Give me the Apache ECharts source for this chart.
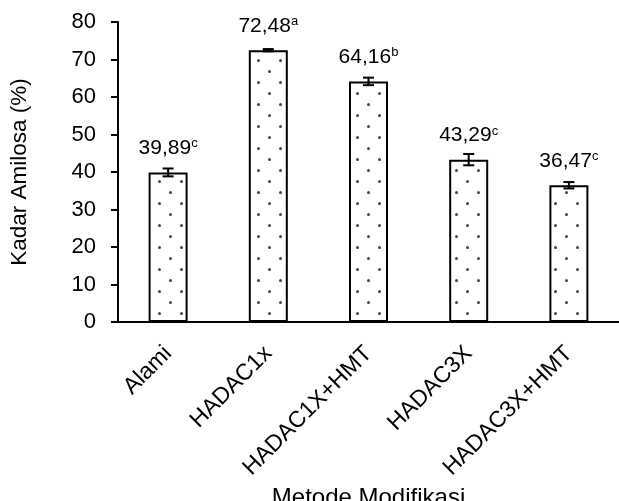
<!DOCTYPE html>
<html>
<head>
<meta charset="utf-8">
<script src="https://cdn.jsdelivr.net/npm/echarts@6/dist/echarts.min.js"></script>
<style>
  html, body { margin: 0; padding: 0; background: #fff; }
  #chart { width: 619px; height: 501px; }
</style>
</head>
<body>
<div id="chart"></div>
<script>
var categories = ['Alami', 'HADAC1x', 'HADAC1X+HMT', 'HADAC3X', 'HADAC3X+HMT'];
var amilosa = [39.89, 72.48, 64.16, 43.29, 36.47];
var stdError = [1.05, 0.3, 1.0, 1.5, 0.85];
var letters = ['c', 'a', 'b', 'c', 'c'];
var yMin = 0, yMax = 80, yStep = 10;

// dotted fill like the original figure
var dots = document.createElement('canvas');
dots.width = 22;
dots.height = 22;
var ctx = dots.getContext('2d');
ctx.fillStyle = '#fff';
ctx.fillRect(0, 0, 22, 22);
ctx.fillStyle = '#444';
ctx.beginPath(); ctx.arc(5.5, 5.5, 1.5, 0, Math.PI * 2); ctx.fill();
ctx.beginPath(); ctx.arc(16.5, 16.5, 1.5, 0, Math.PI * 2); ctx.fill();

var errData = amilosa.map(function (v, i) {
  return [i, v - stdError[i], v + stdError[i]];
});

var myChart = echarts.init(document.getElementById('chart'));
var fontFam = 'Liberation Sans, Arial, sans-serif';

var option = {
  backgroundColor: '#fff',
  animation: false,
  textStyle: { fontFamily: fontFam, color: '#000' },
  grid: { left: 118, right: 0, top: 22, bottom: 179, outerBoundsMode: 'none' },
  xAxis: {
    type: 'category',
    data: categories,
    name: 'Metode Modifikasi',
    nameLocation: 'middle',
    nameGap: 150,
    nameTextStyle: { fontSize: 24, color: '#000', fontFamily: fontFam },
    axisLine: { lineStyle: { color: '#000', width: 2 } },
    axisTick: { alignWithLabel: true, length: 6, lineStyle: { color: '#000', width: 2 } },
    axisLabel: { rotate: 45, fontSize: 23, color: '#000', margin: 28, interval: 0, fontFamily: fontFam },
    splitLine: { show: false }
  },
  yAxis: {
    type: 'value',
    min: yMin,
    max: yMax,
    interval: yStep,
    name: 'Kadar Amilosa (%)',
    nameLocation: 'middle',
    nameGap: 87,
    nameTextStyle: { fontSize: 22.5, color: '#000', fontFamily: fontFam },
    axisLine: { show: true, lineStyle: { color: '#000', width: 2 } },
    axisTick: { show: true, length: 7, lineStyle: { color: '#000', width: 2 } },
    axisLabel: { fontSize: 22, color: '#000', margin: 22, fontFamily: fontFam },
    splitLine: { show: false }
  },
  series: [
    {
      name: 'Kadar Amilosa',
      type: 'bar',
      data: amilosa,
      barWidth: 39,
      itemStyle: {
        color: { image: dots, repeat: 'repeat' },
        borderColor: '#000',
        borderWidth: 2
      },
      label: {
        show: true,
        position: 'top',
        distance: 13,
        formatter: function (p) {
          return '{v|' + String(p.value).replace('.', ',') + '}{s|' + letters[p.dataIndex] + '}';
        },
        rich: {
          v: { fontSize: 21, color: '#000', fontFamily: fontFam },
          s: { fontSize: 13, color: '#000', fontFamily: fontFam, verticalAlign: 'top', padding: [0, 0, 9, 0] }
        }
      },
      z: 2
    },
    {
      name: 'error',
      type: 'custom',
      data: errData,
      z: 5,
      renderItem: function (params, api) {
        var x = api.value(0);
        var lo = api.coord([x, api.value(1)]);
        var hi = api.coord([x, api.value(2)]);
        var hw = 5.5;
        var st = { stroke: '#000', lineWidth: 2 };
        return {
          type: 'group',
          children: [
            { type: 'line', shape: { x1: lo[0], y1: lo[1], x2: hi[0], y2: hi[1] }, style: st },
            { type: 'line', shape: { x1: lo[0] - hw, y1: lo[1], x2: lo[0] + hw, y2: lo[1] }, style: st },
            { type: 'line', shape: { x1: hi[0] - hw, y1: hi[1], x2: hi[0] + hw, y2: hi[1] }, style: st }
          ]
        };
      }
    }
  ]
};

option && myChart.setOption(option);
</script>
</body>
</html>
